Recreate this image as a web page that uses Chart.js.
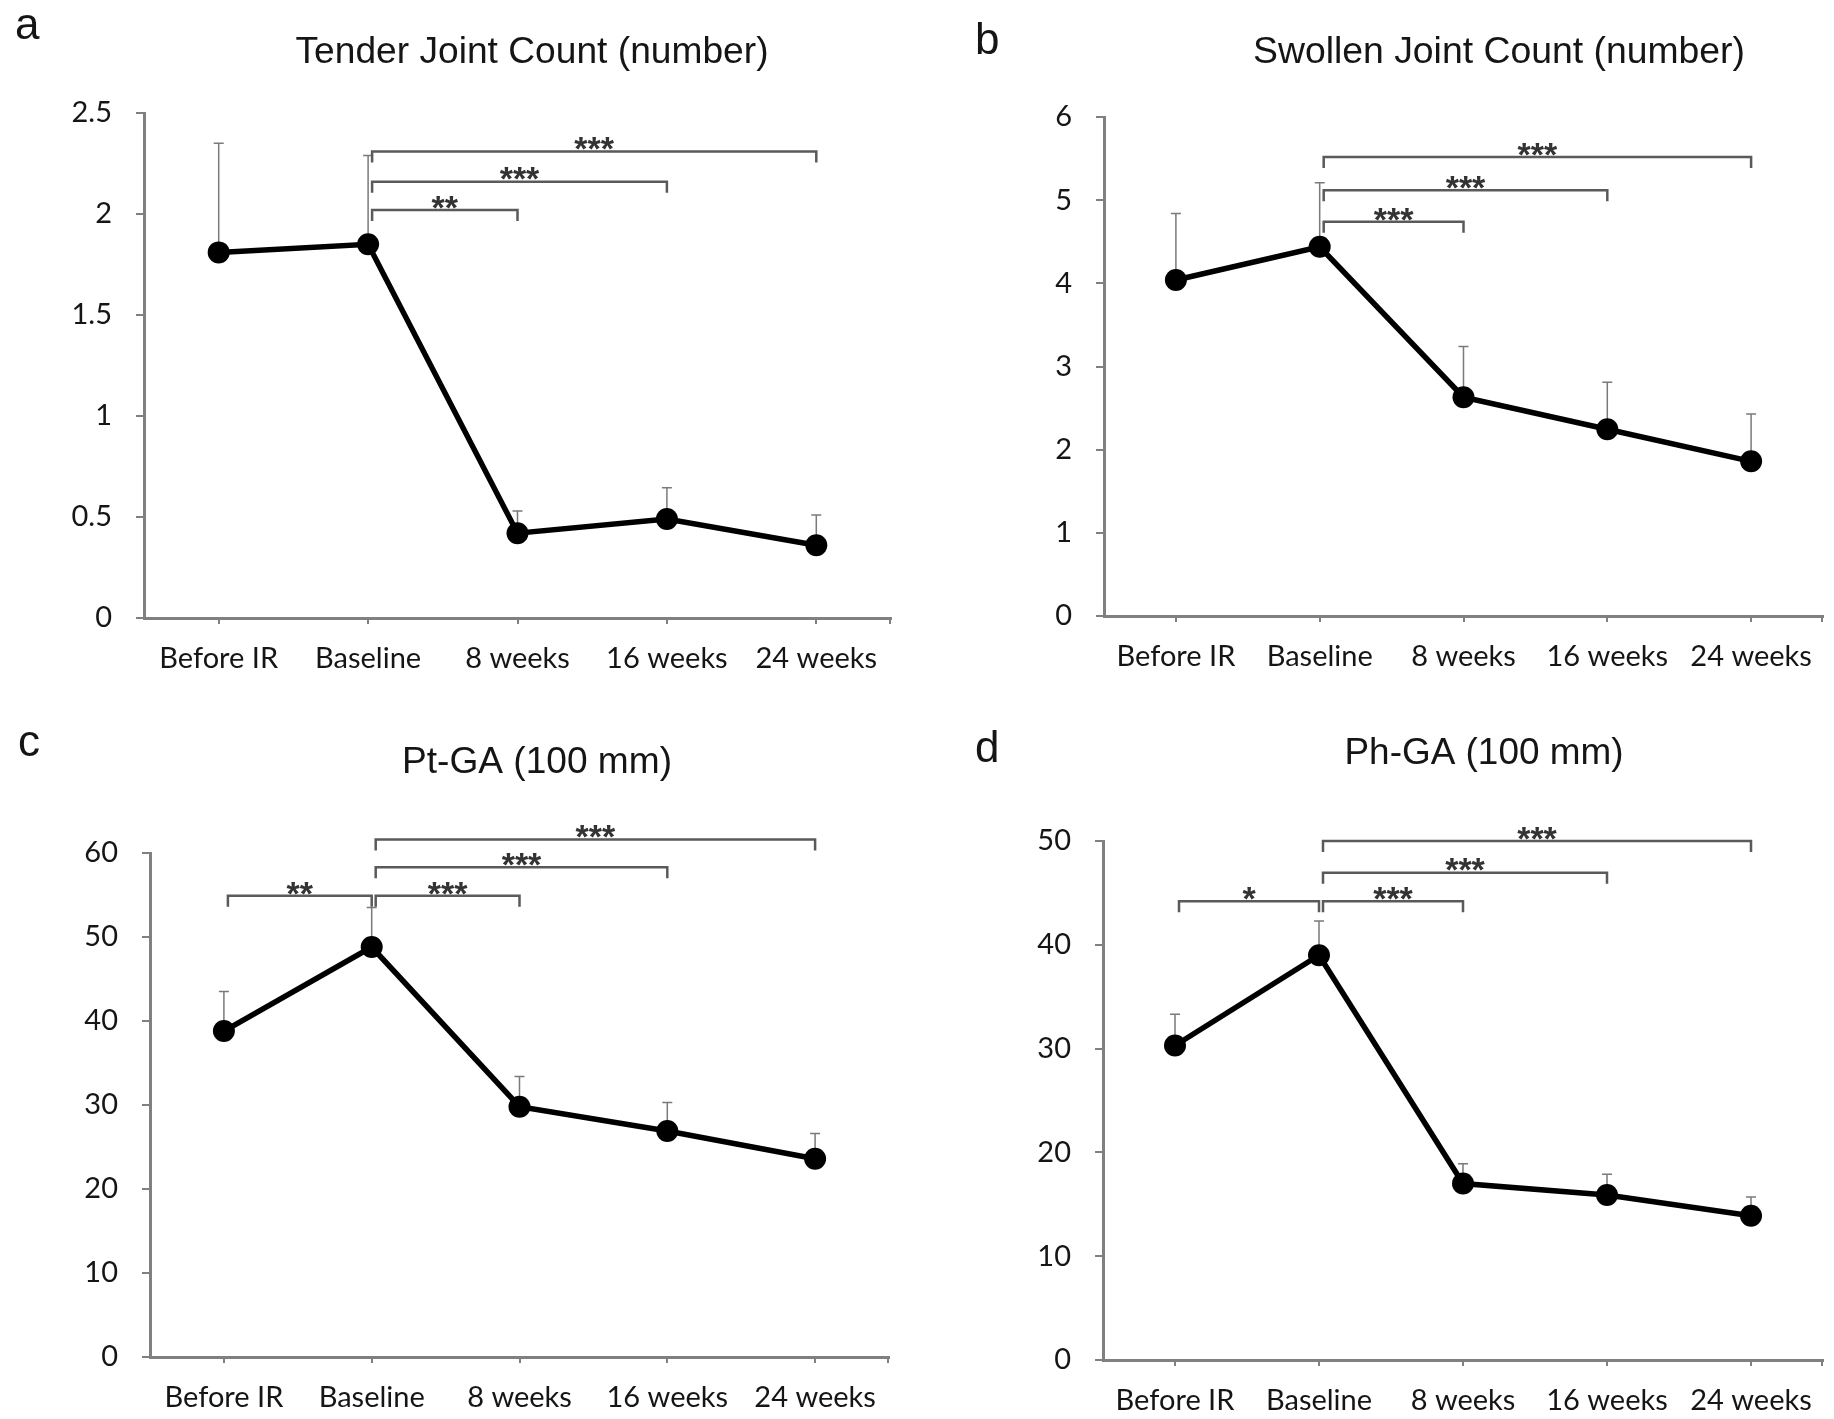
<!DOCTYPE html>
<html>
<head>
<meta charset="utf-8">
<script src="https://cdn.jsdelivr.net/npm/chart.js@4.4.1/dist/chart.umd.min.js"></script>
<style>
  body { margin: 0; background: #fff; }
  canvas { position: absolute; }
</style>
</head>
<body>
<canvas id="chartA" width="917" height="709" style="left:0;top:0"></canvas>
<canvas id="chartB" width="917" height="709" style="left:917px;top:0"></canvas>
<canvas id="chartC" width="917" height="710" style="left:0;top:709px"></canvas>
<canvas id="chartD" width="917" height="710" style="left:917px;top:709px"></canvas>
<script>
const categories = ['Before IR', 'Baseline', '8 weeks', '16 weeks', '24 weeks'];

// mean and top of the error bar, per time point
const tenderMean = [1.81, 1.85, 0.42, 0.49, 0.36];
const tenderUpper = [2.35, 2.29, 0.53, 0.645, 0.51];
// [from, to, bracket height, label]
const tenderSig = [[1, 2, 2.02, '**'], [1, 3, 2.16, '***'], [1, 4, 2.31, '***']];

const swollenMean = [4.04, 4.44, 2.63, 2.245, 1.86];
const swollenUpper = [4.84, 5.21, 3.24, 2.81, 2.43];
const swollenSig = [[1, 2, 4.74, '***'], [1, 3, 5.12, '***'], [1, 4, 5.52, '***']];

const ptgaMean = [38.8, 48.8, 29.8, 26.9, 23.6];
const ptgaUpper = [43.5, 53.5, 33.4, 30.3, 26.6];
const ptgaSig = [[0, 1, 54.9, '**'], [1, 2, 54.9, '***'], [1, 3, 58.3, '***'], [1, 4, 61.6, '***']];

const phgaMean = [30.3, 39.0, 17.0, 15.9, 13.9];
const phgaUpper = [33.3, 42.3, 18.9, 17.9, 15.7];
const phgaSig = [[0, 1, 44.2, '*'], [1, 2, 44.2, '***'], [1, 3, 46.95, '***'], [1, 4, 50.0, '***']];

const axisGrey = '#808080';
const textCol = '#151515';
const tickFont = { family: 'Lato', size: 29 };

function fitText(ctx, text, cx, baseY, size, width) {
  ctx.save();
  ctx.font = size + 'px "Liberation Sans", Arial, sans-serif';
  const w = ctx.measureText(text).width;
  ctx.translate(cx, baseY);
  ctx.scale(width / w, 1);
  ctx.textAlign = 'center';
  ctx.textBaseline = 'alphabetic';
  ctx.fillStyle = textCol;
  ctx.fillText(text, 0, 0);
  ctx.restore();
}

function makePanel(id, p) {
  const annotate = {
    id: 'annotate',
    beforeDatasetsDraw(chart) {
      const ctx = chart.ctx, xs = chart.scales.x, ys = chart.scales.y;
      ctx.save();
      ctx.strokeStyle = '#7a7a7a';
      ctx.lineWidth = 1.5;
      p.upper.forEach(function (u, i) {
        const x = xs.getPixelForValue(i);
        const y0 = ys.getPixelForValue(p.mean[i]);
        const y1 = ys.getPixelForValue(u);
        ctx.beginPath();
        ctx.moveTo(x, y0); ctx.lineTo(x, y1);
        ctx.moveTo(x - 5, y1); ctx.lineTo(x + 5, y1);
        ctx.stroke();
      });
      ctx.restore();
    },
    afterDraw(chart) {
      const ctx = chart.ctx, xs = chart.scales.x, ys = chart.scales.y, area = chart.chartArea;
      ctx.save();
      // tick at right end of the x axis
      ctx.strokeStyle = axisGrey;
      ctx.lineWidth = 2;
      ctx.beginPath();
      ctx.moveTo(area.right - 1, area.bottom);
      ctx.lineTo(area.right - 1, area.bottom + 6);
      ctx.stroke();

      // significance brackets
      ctx.strokeStyle = '#5a5a5a';
      ctx.lineWidth = 2.5;
      p.sig.forEach(function (s) {
        const xl = xs.getPixelForValue(s[0]) + 4;
        const xr = xs.getPixelForValue(s[1]);
        const y = ys.getPixelForValue(s[2]);
        ctx.beginPath();
        ctx.moveTo(xl, y + 11); ctx.lineTo(xl, y); ctx.lineTo(xr, y); ctx.lineTo(xr, y + 11);
        ctx.stroke();
        ctx.font = 'bold 34px "Liberation Sans", Arial, sans-serif';
        ctx.fillStyle = '#333';
        ctx.textAlign = 'center';
        ctx.textBaseline = 'alphabetic';
        ctx.fillText(s[3], (xl + xr) / 2, y - 11 + 0.58 * 34);
      });

      // panel letter and title
      ctx.font = '44px "Liberation Sans", Arial, sans-serif';
      ctx.fillStyle = textCol;
      ctx.textAlign = 'left';
      ctx.textBaseline = 'alphabetic';
      ctx.fillText(p.letter, p.letterX, p.letterY);
      ctx.restore();
      fitText(ctx, p.title, p.titleX, p.titleY, 37, p.titleW);
    }
  };

  return new Chart(document.getElementById(id), {
    type: 'line',
    data: {
      labels: categories,
      datasets: [{
        data: p.mean,
        borderColor: '#000',
        borderWidth: 5.5,
        pointRadius: 11,
        pointHoverRadius: 11,
        pointBackgroundColor: '#000',
        pointBorderColor: '#000',
        pointBorderWidth: 0,
        tension: 0,
        clip: false
      }]
    },
    options: {
      responsive: false,
      animation: false,
      events: [],
      layout: { padding: p.pad },
      plugins: { legend: { display: false }, tooltip: { enabled: false } },
      scales: {
        x: {
          offset: true,
          grid: { offset: false, drawOnChartArea: false, tickLength: 6, color: axisGrey, lineWidth: 2 },
          border: { color: axisGrey, width: 3 },
          ticks: { font: tickFont, color: textCol, padding: 17, maxRotation: 0, autoSkip: false },
          afterFit(s) { s.height = 50; }
        },
        y: {
          min: 0,
          max: p.max,
          ticks: {
            stepSize: p.step, font: tickFont, color: textCol, padding: 24,
            callback: function (v) { return String(v); }
          },
          grid: { drawOnChartArea: false, tickLength: 8, color: axisGrey, lineWidth: 2 },
          border: { color: axisGrey, width: 3 },
          afterFit(s) { s.width = 100; }
        }
      }
    },
    plugins: [annotate]
  });
}

makePanel('chartA', {
  mean: tenderMean, upper: tenderUpper, sig: tenderSig, max: 2.5, step: 0.5,
  pad: { left: 44, right: 26, top: 113, bottom: 41 },
  letter: 'a', letterX: 15, letterY: 39,
  title: 'Tender Joint Count (number)', titleX: 532, titleY: 63, titleW: 473
});
makePanel('chartB', {
  mean: swollenMean, upper: swollenUpper, sig: swollenSig, max: 6, step: 1,
  pad: { left: 87, right: 0, top: 117, bottom: 43 },
  letter: 'b', letterX: 58, letterY: 54,
  title: 'Swollen Joint Count (number)', titleX: 582, titleY: 63, titleW: 492
});
makePanel('chartC', {
  mean: ptgaMean, upper: ptgaUpper, sig: ptgaSig, max: 60, step: 10,
  pad: { left: 50, right: 28, top: 144, bottom: 12 },
  letter: 'c', letterX: 18, letterY: 47,
  title: 'Pt-GA (100 mm)', titleX: 537, titleY: 64, titleW: 270
});
makePanel('chartD', {
  mean: phgaMean, upper: phgaUpper, sig: phgaSig, max: 50, step: 10,
  pad: { left: 86, right: 0, top: 132, bottom: 9 },
  letter: 'd', letterX: 58, letterY: 53,
  title: 'Ph-GA (100 mm)', titleX: 567, titleY: 55, titleW: 279
});
</script>
</body>
</html>
